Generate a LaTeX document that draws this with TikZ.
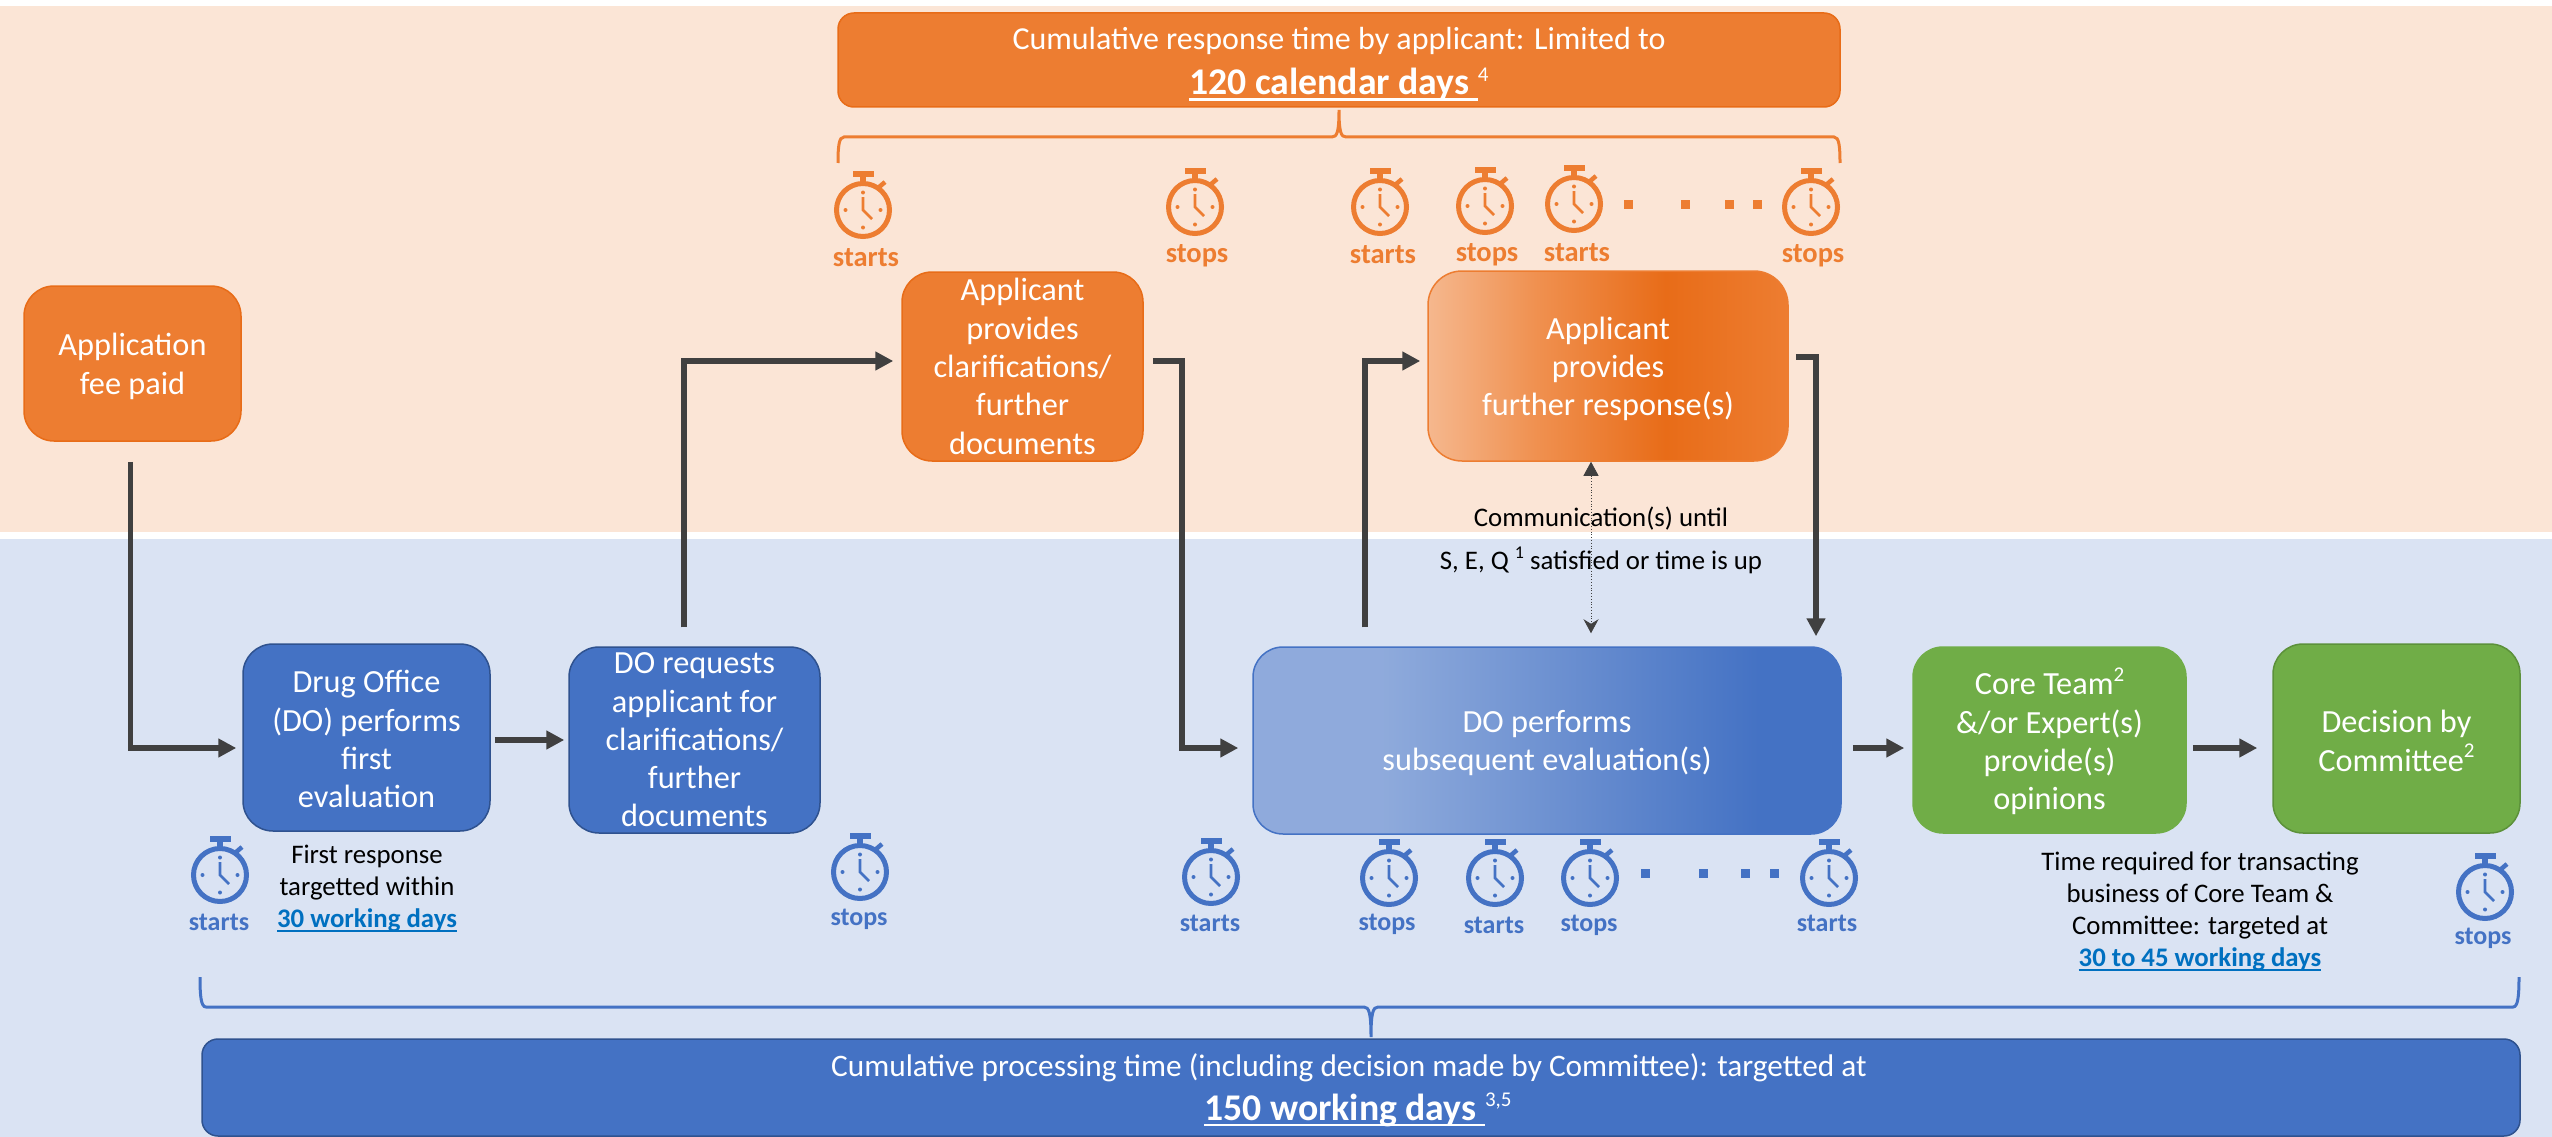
\documentclass[tikz,border=0pt]{standalone}
\usepackage{fontspec}
\setmainfont{Carlito}
\usepackage{tikz}
\usetikzlibrary{arrows.meta,positioning}
\definecolor{orangeBack}{RGB}{251, 229, 214}
\definecolor{blueBack}{RGB}{218, 227, 243}
\definecolor{orangeFill}{RGB}{237, 125, 49}
\definecolor{orangeEdge}{RGB}{232, 108, 24}
\definecolor{blueFill}{RGB}{68, 114, 196}
\definecolor{blueEdge}{RGB}{47, 82, 143}
\definecolor{greenFill}{RGB}{112, 173, 71}
\definecolor{greenEdge}{RGB}{92, 145, 58}
\definecolor{flowCol}{RGB}{64, 64, 64}
\definecolor{linkCol}{RGB}{0, 112, 192}
\pgfdeclarehorizontalshading{furtherShade}{100bp}{color(0bp)=(orangeFill!55!white); color(25bp)=(orangeFill!55!white); color(40bp)=(orangeFill!85!white); color(58bp)=(orangeEdge); color(75bp)=(orangeFill); color(100bp)=(orangeFill)}
\pgfdeclarehorizontalshading{perfShade}{100bp}{color(0bp)=(blueFill!60!white); color(36bp)=(blueFill!60!white); color(68bp)=(blueFill); color(100bp)=(blueFill)}
\tikzset{myBox/.style={rounded corners=30pt,inner sep=0pt,align=center,text=white,line width=1.5pt,font=\fontsize{32.3}{38.3}\selectfont}}
\tikzset{orangeBox/.style={myBox,fill=orangeFill,draw=orangeEdge}}
\tikzset{blueBox/.style={myBox,fill=blueFill,draw=blueEdge}}
\tikzset{greenBox/.style={myBox,fill=greenFill,draw=greenEdge}}
\tikzset{myFlow/.style={draw=flowCol,line width=5.5pt,-{Triangle[length=18pt,width=18pt]}}}
\tikzset{myNote/.style={inner sep=0pt,align=center,text=black,font=\fontsize{26.8}{32}\selectfont}}
\tikzset{orangeLabel/.style={inner sep=0pt,text=orangeFill,font=\fontsize{28.5}{30}\selectfont\bfseries}}
\tikzset{blueLabel/.style={inner sep=0pt,text=blueFill,font=\fontsize{26}{30}\selectfont\bfseries}}
\tikzset{stopClock/.pic={
	\draw[line width=5pt](0,0) circle [radius=26.5];
	\fill(-10.5,-39) rectangle (10.5,-33);
	\fill(-3,-34) rectangle (3,-27);
	\draw[line width=4.5pt](15,-22)--(22,-28);
	\draw[line width=2.6pt](0,-13)--(0,0)--(9,9);
	\foreach \ang in {0,90,180,270}{\fill(\ang:17.5) circle [radius=2];}
}}
\newcommand{\myUnder}[3]{{\setbox0=\hbox{#1}\rlap{\rule[-#2]{\wd0}{#3}}\box0}}
\newcommand{\mySup}[2][21]{\raisebox{0.42em}{\fontsize{#1}{#1}\selectfont\mdseries #2}}

\begin{document}
\begin{tikzpicture}[x=1pt,y=-1pt]
	\useasboundingbox(0,0) rectangle (2552,1137);
	\fill[white](0,0) rectangle (2552,1137);
	\fill[orangeBack](0,6) rectangle (2552,532);
	\fill[blueBack](0,539) rectangle (2552,1137);

	%top and bottom bars
	\node[orangeBox,rounded corners=16pt,minimum width=1002pt,minimum height=94pt,font=\fontsize{32}{30}\selectfont] (topBar) at (1339,60) {\rule{0pt}{30pt}Cumulative response time by applicant: Limited to\\[12pt]{\fontsize{37.7}{34}\selectfont\bfseries\myUnder{120 calendar days }{6pt}{2.5pt}}\mySup{4}};
	\node[blueBox,rounded corners=16pt,minimum width=2318pt,minimum height=97pt] (bottomBar) at (1361,1087.5) {};
	\node[inner sep=0pt,align=center,text=white,font=\fontsize{31.3}{30}\selectfont] (bottomText) at (1349,1090) {Cumulative processing time (including decision made by Committee): targetted at\\[10.5pt]\hspace*{18pt}{\fontsize{37.7}{34}\selectfont\bfseries\myUnder{150 working days }{6pt}{2.5pt}}\mySup{3,5}};

	%braces
	\draw[orangeFill,line width=3pt](838,163) .. controls (838,146) and (839,137) .. (844,137)--(1332,137) .. controls (1337,137) and (1339,132) .. (1339,110) .. controls (1339,132) and (1341,137) .. (1346,137)--(1834,137) .. controls (1839,137) and (1840,146) .. (1840,163);
	\draw[blueFill,line width=3pt](200,977) .. controls (200,996) and (201,1007) .. (206,1007)--(1364,1007) .. controls (1369,1007) and (1371,1013) .. (1371,1037) .. controls (1371,1013) and (1373,1007) .. (1378,1007)--(2513,1007) .. controls (2518,1007) and (2519,996) .. (2519,977);

	%boxes
	\node[orangeBox,minimum width=217pt,minimum height=155pt] (feeBox) at (132.5,363.5) {\rule{0pt}{28pt}Application\\fee paid};
	\node[blueBox,minimum width=247pt,minimum height=187pt] (drugBox) at (366.5,737.5) {\rule{0pt}{26pt}Drug Office\\(DO) performs\\first\\evaluation};
	\node[blueBox,minimum width=251pt,minimum height=186pt] (reqBox) at (694.5,740) {DO requests\\applicant for\\clarifications/\\further\\documents};
	\node[orangeBox,minimum width=241pt,minimum height=189pt] (clarBox) at (1022.5,366.5) {Applicant\\provides\\clarifications/\\further\\documents};
	\node[myBox,shading=furtherShade,draw=orangeFill,rounded corners=34pt,minimum width=360pt,minimum height=190pt] (furtherBox) at (1608,366) {\rule{0pt}{28pt}Applicant\\provides\\further response(s)};
	\node[myBox,shading=perfShade,draw=blueFill,rounded corners=30pt,minimum width=588pt,minimum height=187pt] (perfBox) at (1547,740.5) {\rule{0pt}{27pt}DO performs\\subsequent evaluation(s)};
	\node[greenBox,draw=greenFill,minimum width=273pt,minimum height=186pt] (coreBox) at (2049.5,740) {\rule{0pt}{30pt}Core Team\mySup{2}\\\&/or Expert(s)\\provide(s)\\opinions};
	\node[greenBox,minimum width=247pt,minimum height=189pt] (decisionBox) at (2396.5,738.5) {\rule{0pt}{27pt}Decision by\\Committee\mySup{2}};

	%flow arrows
	\draw[myFlow,shorten <=20pt,shorten >=6pt]([xshift=-2pt]feeBox.south) |- ([yshift=-10.5pt]drugBox.west);
	\draw[myFlow,shorten <=4pt,shorten >=4pt]([yshift=-2.5pt]drugBox.east)--(reqBox.west);
	\draw[myFlow,shorten <=19pt,shorten >=8pt]([xshift=-10.5pt]reqBox.north) |- ([yshift=5.5pt]clarBox.west);
	\coordinate (clarBend) at (1182,748);
	\draw[myFlow,shorten <=9pt,shorten >=14pt]([yshift=5.5pt]clarBox.east) -| (clarBend)--([yshift=-7.5pt]perfBox.west);
	\draw[myFlow,shorten <=19pt,shorten >=7pt]([xshift=-182pt]perfBox.north) |- ([yshift=5pt]furtherBox.west);
	\draw[myFlow,shorten <=7pt,shorten >=10pt]([yshift=9pt]furtherBox.east) -| ([xshift=269pt]perfBox.north);
	\draw[myFlow,shorten <=11pt,shorten >=8pt]([yshift=-7.5pt]perfBox.east)--([yshift=-8pt]coreBox.west);
	\draw[myFlow,shorten <=6pt,shorten >=15pt]([yshift=-8pt]coreBox.east)--([yshift=-9.5pt]decisionBox.west);
	\draw[flowCol,line width=0.8pt,dotted,{Triangle[length=14pt,width=15pt]}-{Stealth[length=14pt,width=15pt]},shorten >=13pt]([xshift=-17pt]furtherBox.south)--([xshift=44pt]perfBox.north);

	%notes
	\node[myNote] (commNote) at (1601,540.5) {Communication(s) until\\[11pt]S, E, Q \mySup[18]{1} satisfied or time is up};
	\node[myNote] (firstNote) at (367,889) {First response\\targetted within\\{\color{linkCol}\bfseries\myUnder{30 working days}{4pt}{1.5pt}}};
	\node[myNote] (timeNote) at (2200,911.5) {Time required for transacting\\business of Core Team \&\\Committee: targeted at\\{\color{linkCol}\bfseries\myUnder{30 to 45 working days}{4pt}{1.5pt}}};

	%stop watches, applicant side
	\foreach \px/\py/\lx/\ly/\word in {863/210/866/258/starts,1195/207/1197/256/stops,1380/207/1383/255/starts,1485/206/1487/255/stops,1574/204/1577/253/starts,1811/207/1813/256/stops}{
		\pic[color=orangeFill] at (\px,\py) {stopClock};
		\node[orangeLabel] (orangeWord\px) at (\lx,\ly) {\word};
	}
	\foreach \px in {1628,1685,1729,1757}{
		\fill[orangeFill](\px-4.5,199.5) rectangle (\px+4.5,208.5);
	}

	%stop watches, office side
	\foreach \px/\py/\lx/\ly/\word in {220/875/219/922/starts,860/872/859/919/stops,1211/877/1210/923/starts,1389/878/1387/924/stops,1495/878/1494/925/starts,1590/878/1589/925/stops,1829/878/1827/923/starts,2485/892/2483/938/stops}{
		\pic[color=blueFill] at (\px,\py) {stopClock};
		\node[blueLabel] (blueWord\px) at (\lx,\ly) {\word};
	}
	\foreach \px in {1645,1703,1745,1774}{
		\fill[blueFill](\px-4.5,868.5) rectangle (\px+4.5,877.5);
	}
\end{tikzpicture}
\end{document}
